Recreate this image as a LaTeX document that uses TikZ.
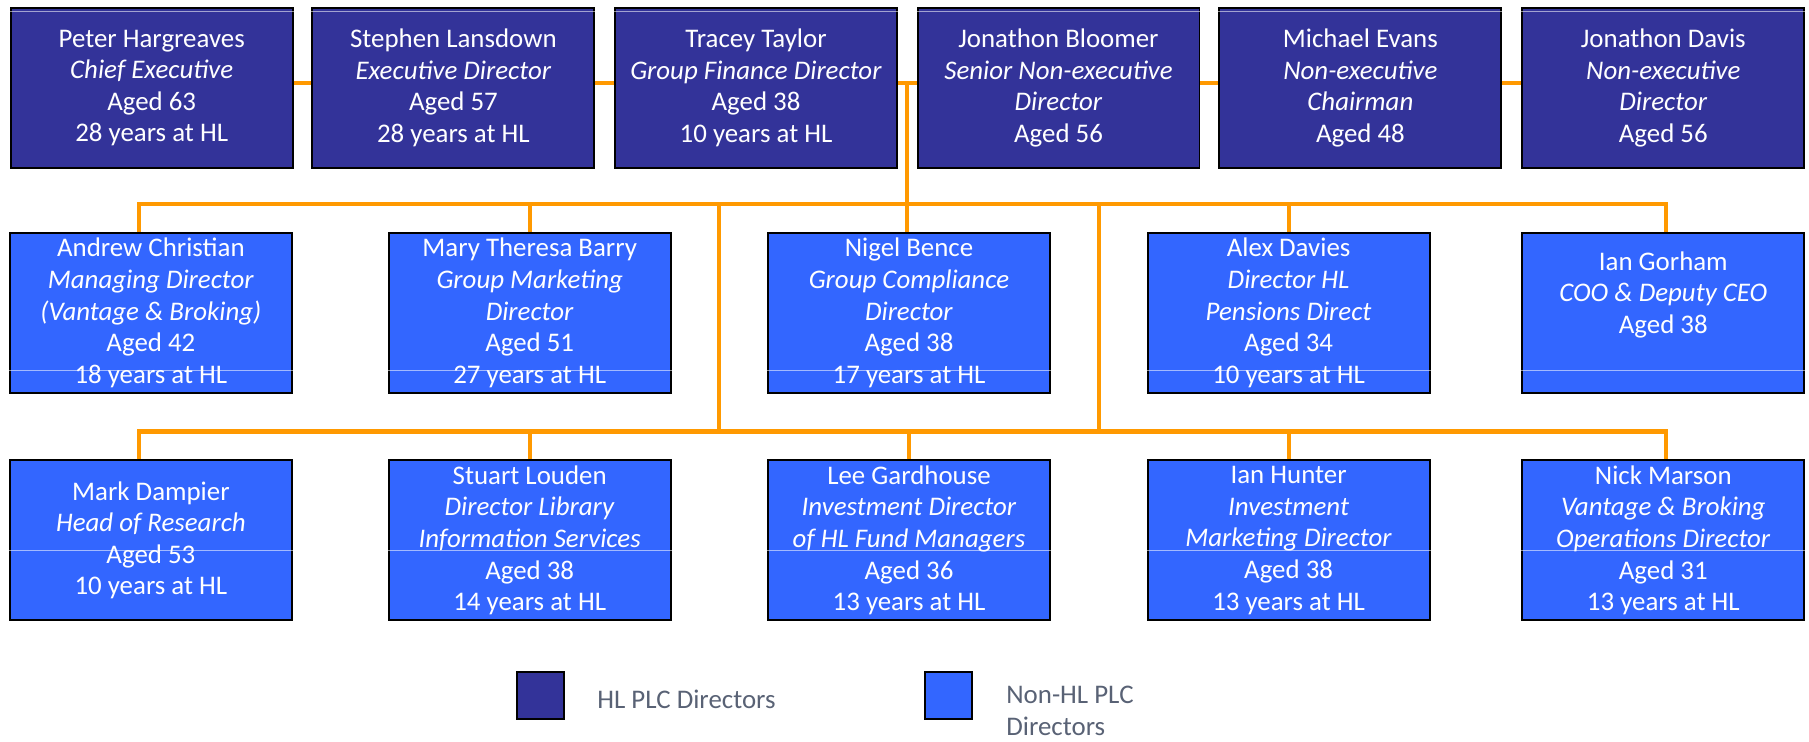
\documentclass[tikz,border=0pt]{standalone}
\usepackage{fontspec}
\setmainfont{Carlito}
\definecolor{hlnavy}{RGB}{51,51,153}
\definecolor{hlblue}{RGB}{51,102,255}
\definecolor{hlorange}{RGB}{255,153,0}
\definecolor{keygrey}{RGB}{89,98,117}

\begin{document}
\begin{tikzpicture}[x=0.02cm,y=-0.02cm,
	box/.style={draw=black,line width=1.1pt,minimum width=5.64cm,minimum height=3.2cm,
		inner sep=0pt,align=center,text=white,font=\fontsize{15.3}{18}\selectfont},
	plc/.style={box,fill=hlnavy},
	nonplc/.style={box,fill=hlblue},
	link/.style={draw=hlorange,line width=2.3pt},
	sheen/.style={draw=white,opacity=0.55,line width=0.5pt},
	keytext/.style={inner sep=0pt,text=keygrey,align=left,font=\fontsize{15.3}{18.5}\selectfont}]
\useasboundingbox (0,0) rectangle (1809,741);

% board
\node [plc] (t1) at (151.7,88) {Peter Hargreaves\\\textit{Chief Executive}\\Aged 63\\28 years at HL};
\node [plc] (t2) at (453.4,88) {Stephen Lansdown\\\textit{Executive Director}\\Aged 57\\28 years at HL};
\node [plc] (t3) at (756,88) {Tracey Taylor\\\textit{Group Finance Director}\\Aged 38\\10 years at HL};
\node [plc] (t4) at (1058.5,88) {Jonathon Bloomer\\\textit{Senior Non-executive}\\\textit{Director}\\Aged 56};
\node [plc] (t5) at (1360.4,88) {Michael Evans\\\textit{Non-executive}\\\textit{Chairman}\\Aged 48};
\node [plc] (t6) at (1663.3,88) {Jonathon Davis\\\textit{Non-executive}\\\textit{Director}\\Aged 56};

% second row
\node [nonplc] (a1) at (150.9,313) {Andrew Christian\\\textit{Managing Director}\\\textit{(Vantage \& Broking)}\\Aged 42\\18 years at HL};
\node [nonplc] (a2) at (529.7,313) {Mary Theresa Barry\\\textit{Group Marketing}\\\textit{Director}\\Aged 51\\27 years at HL};
\node [nonplc] (a3) at (909,313) {Nigel Bence\\\textit{Group Compliance}\\\textit{Director}\\Aged 38\\17 years at HL};
\node [nonplc] (a4) at (1288.6,313) {Alex Davies\\\textit{Director HL}\\\textit{Pensions Direct}\\Aged 34\\10 years at HL};
\node [nonplc] (a5) at (1663.3,313) {Ian Gorham\\\textit{COO \& Deputy CEO}\\Aged 38\\\strut};

% third row
\node [nonplc] (b1) at (150.9,540.3) {Mark Dampier\\\textit{Head of Research}\\Aged 53\\10 years at HL};
\node [nonplc] (b2) at (529.7,540.3) {Stuart Louden\\\textit{Director Library}\\\textit{Information Services}\\Aged 38\\14 years at HL};
\node [nonplc] (b3) at (909,540.3) {Lee Gardhouse\\\textit{Investment Director}\\\textit{of HL Fund Managers}\\Aged 36\\13 years at HL};
\node [nonplc] (b4) at (1288.6,540.3) {Ian Hunter\\\textit{Investment}\\\textit{Marketing Director}\\Aged 38\\13 years at HL};
\node [nonplc] (b5) at (1663.3,540.3) {Nick Marson\\\textit{Vantage \& Broking}\\\textit{Operations Director}\\Aged 31\\13 years at HL};

% thin light rules across the boxes
\foreach \i in {1,...,6}
	\draw [sheen] ([yshift=-0.08cm]t\i.north west) -- ([yshift=-0.08cm]t\i.north east);
\foreach \i in {1,...,5}{
	\draw [sheen] (a\i.west |- 0,370) -- (a\i.east |- 0,370);
	\draw [sheen] (b\i.west |- 0,550) -- (b\i.east |- 0,550);
}

% connectors
\coordinate (topbus) at (907,83);
\coordinate (midL) at (139,204);
\coordinate (midR) at (1666,204);
\coordinate (joinA) at (719.4,204);
\coordinate (joinB) at (1099,204);
\coordinate (lowL) at (139,431.5);
\coordinate (lowR) at (1666,431.5);

\foreach \i/\j in {1/2,2/3,3/4,4/5,5/6}
	\draw [link] (t\i.east |- topbus) -- (t\j.west |- topbus);
\draw [link] (topbus) -- (topbus |- a3.north);
\draw [link] (a1.north -| midL) -- (midL) -- (midR) -- (a5.north -| midR);
\foreach \n in {a2,a4}
	\draw [link] (\n.north) -- (\n.north |- midL);
\draw [link] (joinA) -- (joinA |- lowL);
\draw [link] (joinB) -- (joinB |- lowL);
\draw [link] (b1.north -| lowL) -- (lowL) -- (lowR) -- (b5.north -| lowR);
\foreach \n in {b2,b3,b4}
	\draw [link] (\n.north) -- (\n.north |- lowL);

% key
\node [plc,minimum width=0.94cm,minimum height=0.94cm] (k1) at (540.5,695.5) {};
\node [keytext,anchor=west] (k1t) at (597,699) {HL PLC Directors};
\node [nonplc,minimum width=0.94cm,minimum height=0.94cm] (k2) at (948.7,695.5) {};
\node [keytext,anchor=west] (k2t) at (1006,711) {Non-HL PLC\\Directors};
\end{tikzpicture}
\end{document}
